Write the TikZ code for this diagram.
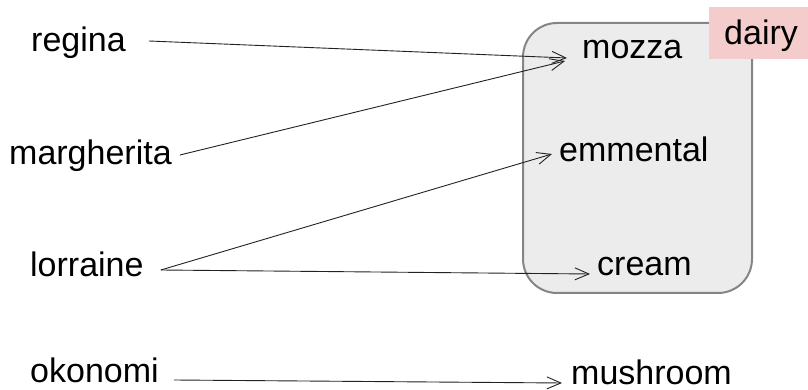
\documentclass[tikz,border=0pt]{standalone}
\usepackage{fontspec}
\setmainfont{Liberation Sans}
\usetikzlibrary{arrows.meta,calc}
\definecolor{boxfill}{HTML}{ECECEC}
\definecolor{boxline}{HTML}{858585}
\definecolor{pinkfill}{HTML}{F4CCCC}
\definecolor{arrline}{HTML}{222222}
\begin{document}
\begin{tikzpicture}[x=1pt,y=1pt,
  lbl/.style={inner sep=0pt,anchor=base west,font=\fontsize{34}{40}\selectfont},
  arr/.style={draw=arrline,line width=0.9pt,-{Straight Barb[length=14pt,width=12pt,line width=0.9pt]}}]
\useasboundingbox (0,0) rectangle (808,390);
% group box
\draw[fill=boxfill,draw=boxline,line width=2pt,rounded corners=34pt] (523,97) rectangle (752,367);
\node[fill=pinkfill,inner sep=0pt,minimum width=99pt,minimum height=52pt,anchor=south west] (dairybox) at (709,331) {};
\node[lbl] (dairy) at (724,345) {dairy};
% left labels
\node[lbl] (regina) at (31,338) {regina};
\node[lbl] (margherita) at (9,225) {margherita};
\node[lbl] (lorraine) at (30,113) {lorraine};
\node[lbl] (okonomi) at (30,7) {okonomi};
% right labels
\node[lbl] (mozza) at (582,331) {mozza};
\node[lbl] (emmental) at (559,228) {emmental};
\node[lbl] (cream) at (597,114) {cream};
\node[lbl] (mushroom) at (571,5) {mushroom};
% connectors
\draw[arr] ($(regina.base east)+(23,11)$) -- ($(mozza.base west)+(-15,1)$);
\draw[arr] ($(margherita.base east)+(8,10)$) -- ($(mozza.base west)+(-17,-2)$);
\draw[arr] ($(lorraine.base east)+(17,7)$) -- ($(emmental.base west)+(-7,8)$);
\draw[arr] ($(lorraine.base east)+(17,7)$) -- ($(cream.base west)+(-7,2)$);
\draw[arr] ($(okonomi.base east)+(15,3)$) -- ($(mushroom.base west)+(-9,2)$);
\end{tikzpicture}
\end{document}
